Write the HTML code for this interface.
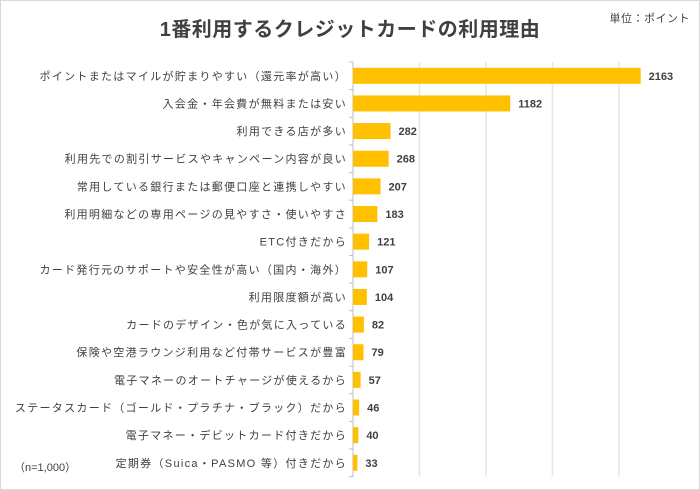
<!DOCTYPE html>
<html><head><meta charset="utf-8"><style>
body{margin:0;background:#fff;}
svg{display:block;font-family:"Liberation Sans","Noto Sans CJK JP",sans-serif;}
</style></head><body>
<svg id="chart" width="700" height="490" viewBox="0 0 700 490">
<rect x="0.5" y="0.5" width="699" height="489" fill="#fff" stroke="#d9d9d9"/>
<text x="350" y="36" text-anchor="middle" font-size="20" font-weight="bold" fill="#404040" letter-spacing="0.5">1番利用するクレジットカードの利用理由</text>
<text x="690" y="22" text-anchor="end" font-size="11" fill="#404040" letter-spacing="0.5">単位：ポイント</text>
<text x="14" y="471" font-size="11" fill="#404040">（n=1,000）</text>
<g id="grid"></g><g id="bars"></g><g id="labels"></g>
</svg>
<script>
const categories=["ポイントまたはマイルが貯まりやすい（還元率が高い）","入会金・年会費が無料または安い","利用できる店が多い","利用先での割引サービスやキャンペーン内容が良い","常用している銀行または郵便口座と連携しやすい","利用明細などの専用ページの見やすさ・使いやすさ","ETC付きだから","カード発行元のサポートや安全性が高い（国内・海外）","利用限度額が高い","カードのデザイン・色が気に入っている","保険や空港ラウンジ利用など付帯サービスが豊富","電子マネーのオートチャージが使えるから","ステータスカード（ゴールド・プラチナ・ブラック）だから","電子マネー・デビットカード付きだから","定期券（Suica・PASMO 等）付きだから"];
const values=[2163,1182,282,268,207,183,121,107,104,82,79,57,46,40,33];
const gridTicks=[500,1000,1500,2000];
const NS="http://www.w3.org/2000/svg";
const x0=353,xScale=0.133,plotTop=62,rowH=27.64,barH=16;
const xPos=v=>x0+v*xScale;
const yPos=i=>plotTop+i*rowH+rowH/2;
function mk(t,a,p){const e=document.createElementNS(NS,t);for(const k in a)e.setAttribute(k,a[k]);p.appendChild(e);return e;}
const g=document.getElementById('grid'),b=document.getElementById('bars'),l=document.getElementById('labels');
const plotBottom=plotTop+categories.length*rowH;
gridTicks.forEach(t=>{const ln=mk('line',{x1:xPos(t),x2:xPos(t),y1:plotTop,y2:plotBottom,stroke:'#e6e6e6','stroke-width':1.5},g);

});
const ax=mk('line',{x1:x0,x2:x0,y1:plotTop,y2:plotBottom,stroke:'#bfbfbf'},g);


for(let i=0;i<=categories.length;i++){const tk=mk('line',{x1:x0-4,x2:x0,y1:plotTop+i*rowH,y2:plotTop+i*rowH,stroke:'#bfbfbf'},g);

}
categories.forEach((c,i)=>{
const y=yPos(i);
const r=mk('rect',{x:x0,y:y-barH/2,width:values[i]*xScale,height:barH,fill:'#FFC000'},b);


const t=mk('text',{x:x0-6,y:y+4,'text-anchor':'end','font-size':11,'letter-spacing':1.3,fill:'#404040'},l);t.textContent=c;


const v=mk('text',{x:xPos(values[i])+8,y:y+4,'font-size':11,'font-weight':'bold',fill:'#404040'},l);v.textContent=values[i];


});
</script>
</body></html>
